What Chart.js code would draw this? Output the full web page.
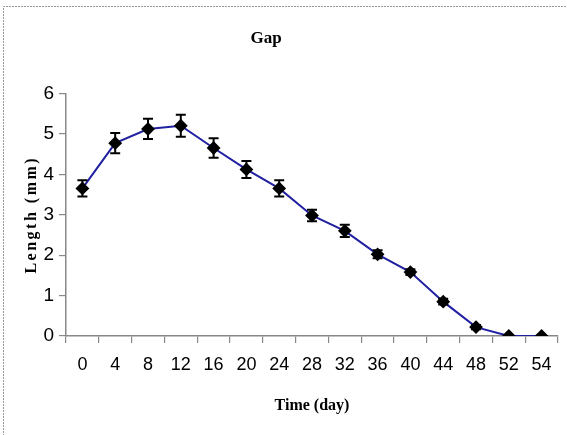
<!DOCTYPE html>
<html>
<head>
<meta charset="utf-8">
<script src="https://cdn.jsdelivr.net/npm/chart.js@4/dist/chart.umd.min.js"></script>
<style>
html,body{margin:0;padding:0;background:#fff;}
#wrap{width:567px;height:435px;position:relative;}
</style>
</head>
<body>
<div id="wrap"><canvas id="c" width="567" height="435"></canvas></div>
<script>
const days = ['0','4','8','12','16','20','24','28','32','36','40','44','48','52','54'];
const lengthMm = [3.65,4.77,5.12,5.2,4.65,4.12,3.65,2.98,2.6,2.02,1.58,0.85,0.22,0,0];
const errMm = [0.2,0.25,0.25,0.27,0.24,0.21,0.2,0.14,0.15,0.1,0.07,0.07,0.05,0,0];
const yTicks = [0,1,2,3,4,5,6];

const bgPlugin = {
  id:'bg',
  beforeDraw(chart){
    const c=chart.ctx; c.save(); c.fillStyle='#fff'; c.fillRect(0,0,chart.width,chart.height);
    c.strokeStyle='#999'; c.lineWidth=1; c.setLineDash([2,1]);
    c.beginPath(); c.moveTo(3.5,436); c.lineTo(3.5,6.5); c.lineTo(567,6.5); c.stroke();
    c.restore();
    const s=chart.scales.y;
    if(s && !s._lsWrapped){
      const orig=s.drawTitle.bind(s);
      s.drawTitle=function(){const x=this.ctx; x.save(); x.letterSpacing='2.5px'; orig(); x.restore();};
      s._lsWrapped=true;
    }
  },
  afterLayout(chart){
    if(chart.titleBlock){ chart.titleBlock.left=0; chart.titleBlock.right=532; }
  }
};

const errPlugin = {
  id:'err',
  afterDatasetsDraw(chart){
    const c=chart.ctx, xs=chart.scales.x, ys=chart.scales.y;
    c.save(); c.strokeStyle='#000'; c.lineWidth=2;
    lengthMm.forEach((v,i)=>{
      const e=errMm[i]; if(!e) return;
      const x=xs.getPixelForValue(i), y1=ys.getPixelForValue(v+e), y2=ys.getPixelForValue(v-e);
      c.beginPath();
      c.moveTo(x,y1); c.lineTo(x,y2);
      c.moveTo(x-5,y1); c.lineTo(x+5,y1);
      c.moveTo(x-5,y2); c.lineTo(x+5,y2);
      c.stroke();
    });
    c.restore();
  }
};

new Chart(document.getElementById('c'),{
  type:'line',
  data:{labels:days,datasets:[{
    label:'Gap',data:lengthMm,borderColor:'#2020a0',borderWidth:2,
    pointStyle:'rectRot',pointRadius:5.5,pointBackgroundColor:'#000',pointBorderColor:'#000',
    tension:0
  }]},
  options:{
    responsive:false,animation:false,
    layout:{padding:{left:0,right:9,top:0,bottom:0}},
    plugins:{
      legend:{display:false},tooltip:{enabled:false},
      title:{display:true,text:'Gap',color:'#000',
        font:{family:'Liberation Serif',weight:'bold',size:17},
        padding:{top:28,bottom:45}}
    },
    scales:{
      x:{type:'category',offset:true,
        grid:{offset:true,drawOnChartArea:false,tickLength:7,color:'#888',lineWidth:1.2},
        border:{color:'#888',width:1.5},
        ticks:{color:'#000',padding:11,maxRotation:0,autoSkip:false,
          font:{family:'Liberation Sans Narrow, Liberation Sans',size:18}},
        title:{display:true,text:'Time (day)',color:'#000',
          font:{family:'Liberation Serif',weight:'bold',size:16},padding:{top:20,bottom:20}},
        afterFit(s){s.height=99;}
      },
      y:{min:0,max:6,
        afterBuildTicks(s){s.ticks=yTicks.map(v=>({value:v}));},
        grid:{drawOnChartArea:false,tickLength:7,color:'#888',lineWidth:1.2},
        border:{color:'#888',width:1.5},
        ticks:{color:'#000',padding:5,
          font:{family:'Liberation Sans Narrow, Liberation Sans',size:19}},
        title:{display:true,text:'Length (mm)',color:'#000',
          font:{family:'Liberation Serif',weight:'bold',size:16},padding:{top:22,bottom:22}},
        afterFit(s){s.width=66;}
      }
    }
  },
  plugins:[bgPlugin,errPlugin]
});
</script>
</body>
</html>
